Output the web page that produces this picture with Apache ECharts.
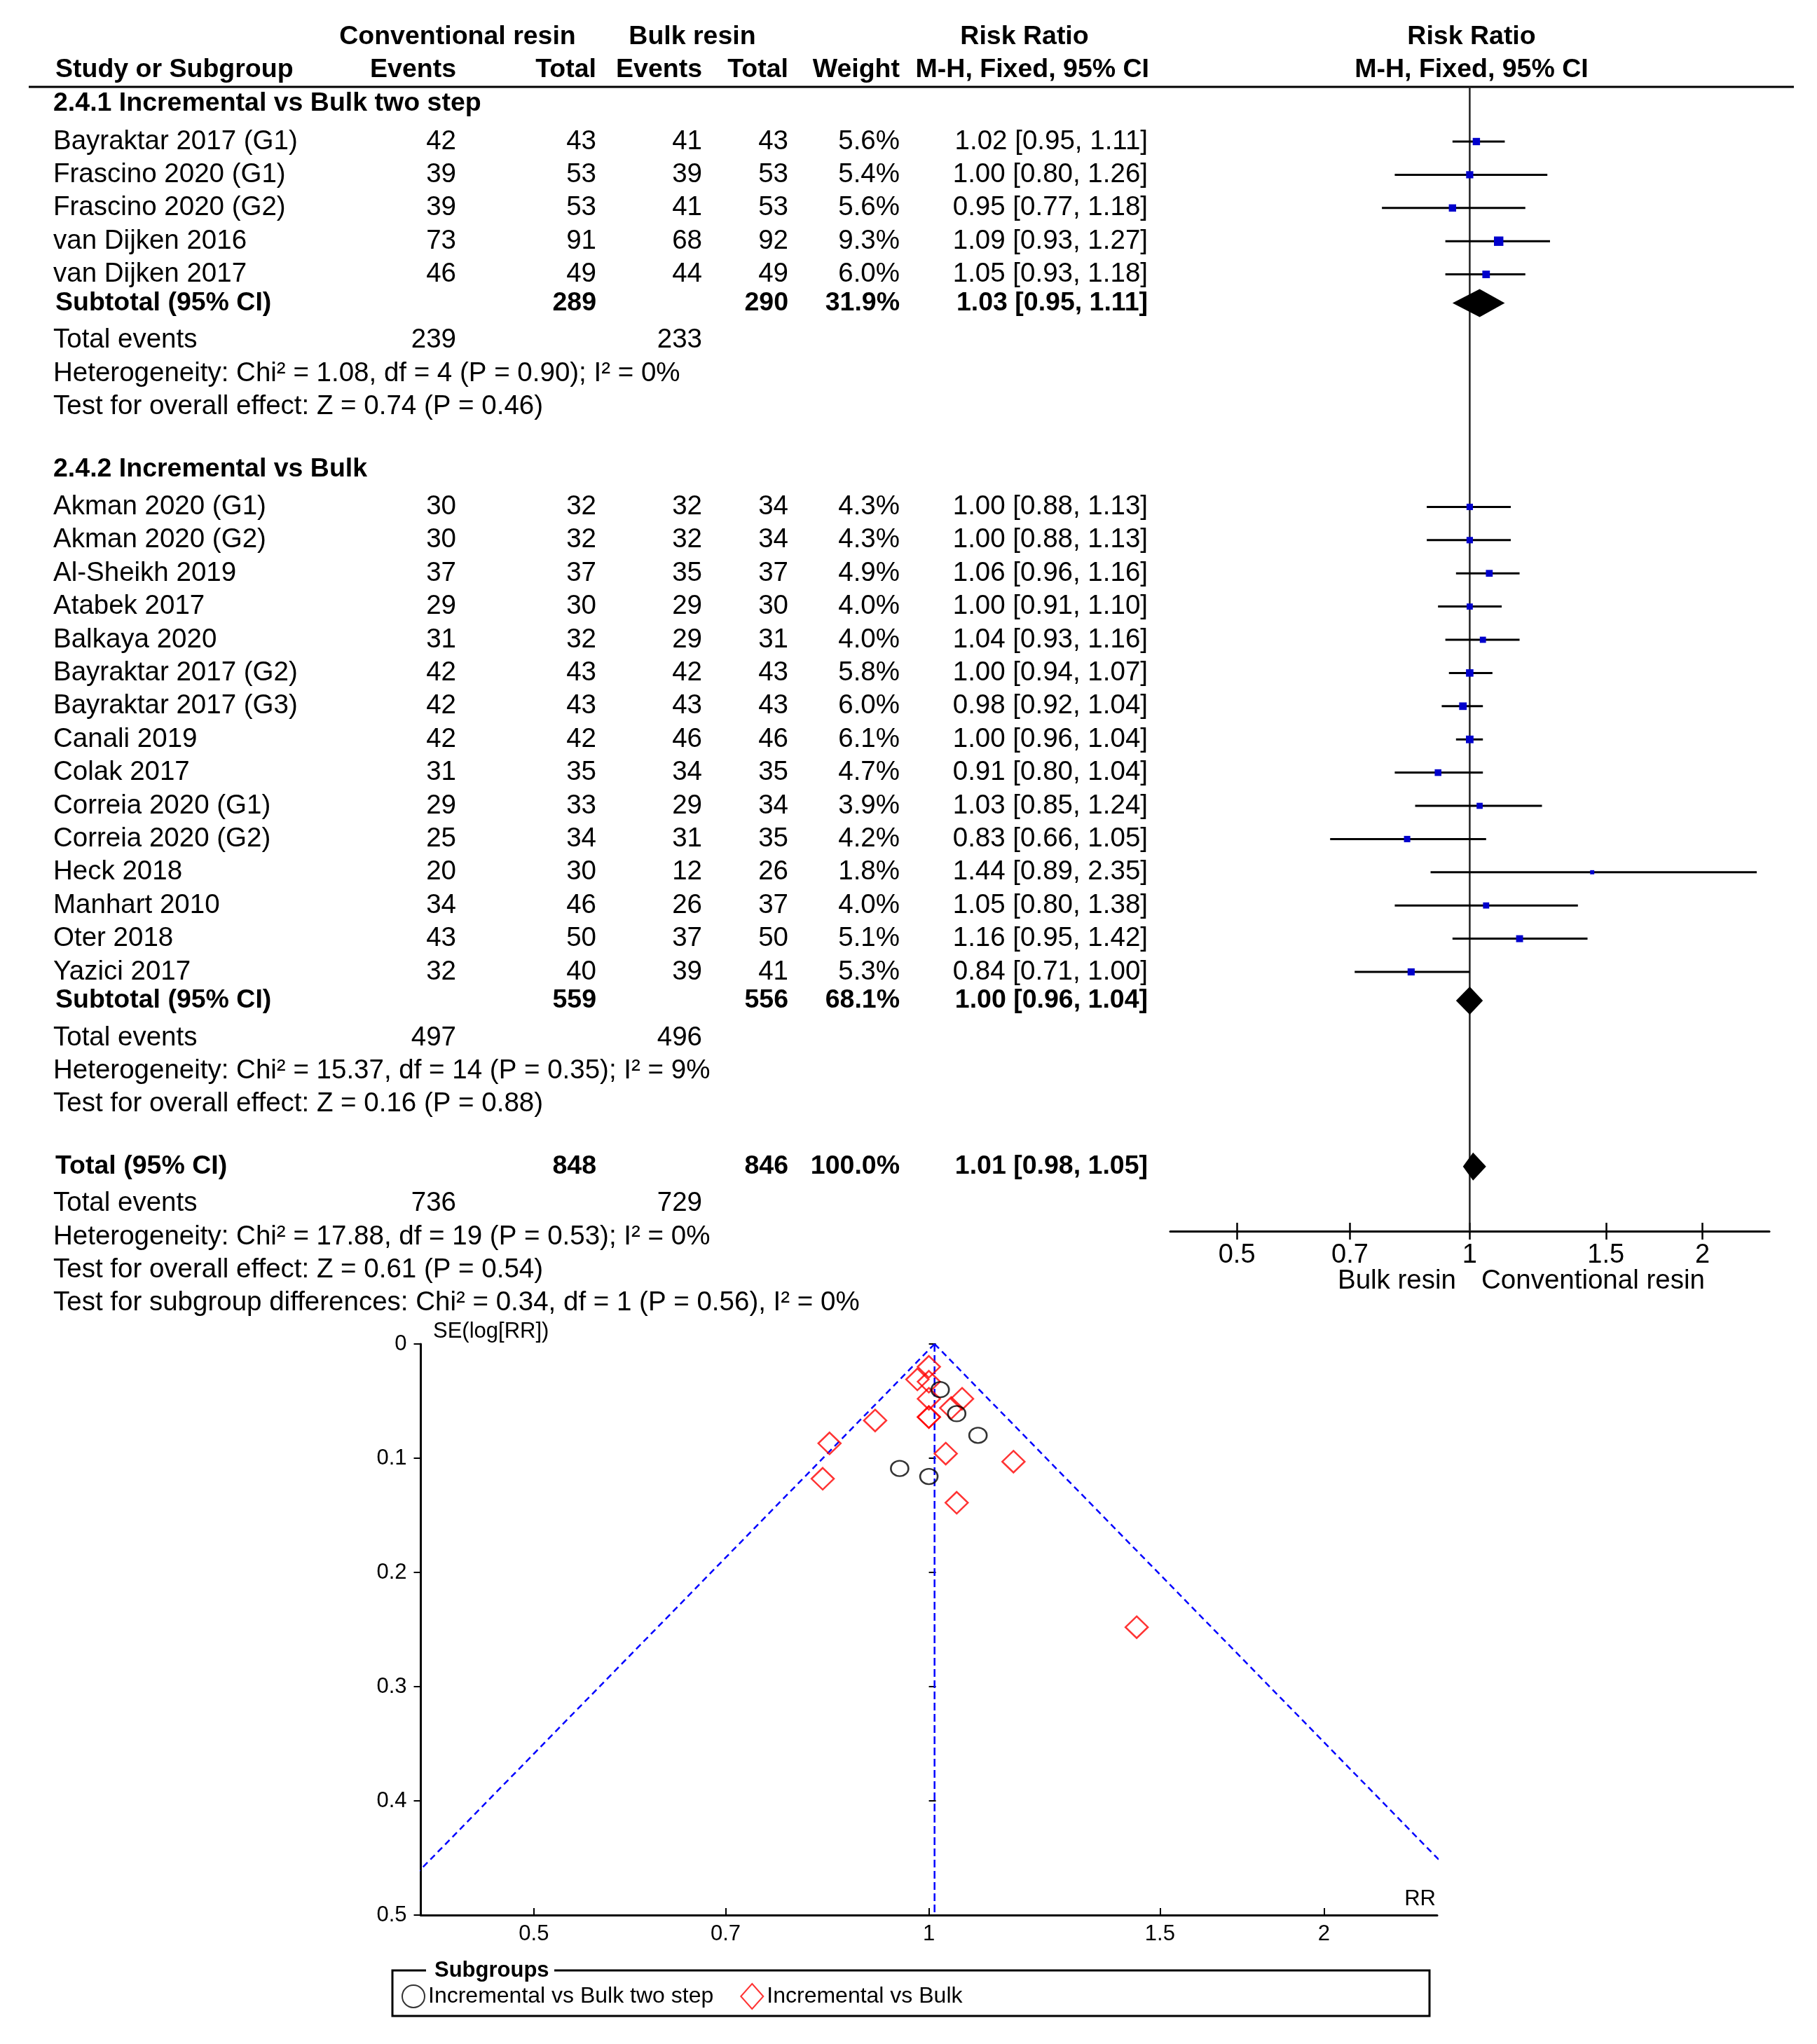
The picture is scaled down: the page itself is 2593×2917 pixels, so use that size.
<!DOCTYPE html>
<html><head><meta charset="utf-8">
<script src="https://cdn.jsdelivr.net/npm/echarts@6/dist/echarts.min.js"></script>
<style>html,body{margin:0;padding:0;background:#fff}#c{width:2593px;height:2917px}</style>
</head><body><div id="c"></div>
<script>
// ---------------- DATA ----------------
const group1Name = '2.4.1 Incremental vs Bulk two step';
const group1Studies = ['Bayraktar 2017 (G1)','Frascino 2020 (G1)','Frascino 2020 (G2)','van Dijken 2016','van Dijken 2017'];
const group1ConvEvents = [42,39,39,73,46];
const group1ConvTotal = [43,53,53,91,49];
const group1BulkEvents = [41,39,41,68,44];
const group1BulkTotal = [43,53,53,92,49];
const group1Weight = [5.6,5.4,5.6,9.3,6.0];
const group1RR = [1.02,1.00,0.95,1.09,1.05];
const group1Lower = [0.95,0.80,0.77,0.93,0.93];
const group1Upper = [1.11,1.26,1.18,1.27,1.18];
const group1SE = [0.040,0.116,0.109,0.080,0.061];
const group1Subtotal = {convTotal:289, bulkTotal:290, weight:31.9, rr:1.03, lo:0.95, hi:1.11, convEvents:239, bulkEvents:233};
const group1Het = 'Heterogeneity: Chi\u00B2 = 1.08, df = 4 (P = 0.90); I\u00B2 = 0%';
const group1Test = 'Test for overall effect: Z = 0.74 (P = 0.46)';

const group2Name = '2.4.2 Incremental vs Bulk';
const group2Studies = ['Akman 2020 (G1)','Akman 2020 (G2)','Al-Sheikh 2019','Atabek 2017','Balkaya 2020','Bayraktar 2017 (G2)','Bayraktar 2017 (G3)','Canali 2019','Colak 2017','Correia 2020 (G1)','Correia 2020 (G2)','Heck 2018','Manhart 2010','Oter 2018','Yazici 2017'];
const group2ConvEvents = [30,30,37,29,31,42,42,42,31,29,25,20,34,43,32];
const group2ConvTotal = [32,32,37,30,32,43,43,42,35,33,34,30,46,50,40];
const group2BulkEvents = [32,32,35,29,29,42,43,46,34,29,31,12,26,37,39];
const group2BulkTotal = [34,34,37,30,31,43,43,46,35,34,35,26,37,50,41];
const group2Weight = [4.3,4.3,4.9,4.0,4.0,5.8,6.0,6.1,4.7,3.9,4.2,1.8,4.0,5.1,5.3];
const group2RR = [1.00,1.00,1.06,1.00,1.04,1.00,0.98,1.00,0.91,1.03,0.83,1.44,1.05,1.16,0.84];
const group2Lower = [0.88,0.88,0.96,0.91,0.93,0.94,0.92,0.96,0.80,0.85,0.66,0.89,0.80,0.95,0.71];
const group2Upper = [1.13,1.13,1.16,1.10,1.16,1.07,1.04,1.04,1.04,1.24,1.05,2.35,1.38,1.42,1.00];
const group2SE = [0.064,0.064,0.048,0.048,0.056,0.033,0.031,0.020,0.067,0.096,0.118,0.248,0.139,0.103,0.087];
const group2Subtotal = {convTotal:559, bulkTotal:556, weight:68.1, rr:1.00, lo:0.96, hi:1.04, convEvents:497, bulkEvents:496};
const group2Het = 'Heterogeneity: Chi\u00B2 = 15.37, df = 14 (P = 0.35); I\u00B2 = 9%';
const group2Test = 'Test for overall effect: Z = 0.16 (P = 0.88)';

const overallTotal = {convTotal:848, bulkTotal:846, weight:100.0, rr:1.01, lo:0.98, hi:1.05, convEvents:736, bulkEvents:729};
const overallHet = 'Heterogeneity: Chi\u00B2 = 17.88, df = 19 (P = 0.53); I\u00B2 = 0%';
const overallTest = 'Test for overall effect: Z = 0.61 (P = 0.54)';
const subgroupTest = 'Test for subgroup differences: Chi\u00B2 = 0.34, df = 1 (P = 0.56), I\u00B2 = 0%';

const forestTicks = [0.5, 0.7, 1, 1.5, 2];
const funnelXTicks = [0.5, 0.7, 1, 1.5, 2];
const axisRange = [0.41, 2.44];
const seRange = [0, 0.5];
const legendNames = ['Incremental vs Bulk two step','Incremental vs Bulk'];

// ---------------- LAYOUT ----------------
const FF = '"Liberation Sans", Arial, sans-serif';
const FS = 37.5;
const FSR = 38.5;
const rows = [];
let cy = 148;
function push(o){ o.y = cy; rows.push(o); }
function addGroup(name, studies, ce, ct, be, bt, w, rr, lo, hi, sub, het, test) {
  push({kind:'heading', label:name});
  cy += 54;
  for (let i = 0; i < studies.length; i++) {
    if (i > 0) cy += 47.4;
    push({kind:'study', label:studies[i], ce:ce[i], ct:ct[i], be:be[i], bt:bt[i], w:w[i], rr:rr[i], lo:lo[i], hi:hi[i]});
  }
  cy += 41;
  push(Object.assign({kind:'sub', label:'Subtotal (95% CI)'}, sub));
  cy += 53;
  push({kind:'events', label:'Total events', ce:sub.convEvents, be:sub.bulkEvents});
  cy += 47.4; push({kind:'note', label:het});
  cy += 47.4; push({kind:'note', label:test});
}
addGroup(group1Name, group1Studies, group1ConvEvents, group1ConvTotal, group1BulkEvents, group1BulkTotal, group1Weight, group1RR, group1Lower, group1Upper, group1Subtotal, group1Het, group1Test);
cy += 89;
addGroup(group2Name, group2Studies, group2ConvEvents, group2ConvTotal, group2BulkEvents, group2BulkTotal, group2Weight, group2RR, group2Lower, group2Upper, group2Subtotal, group2Het, group2Test);
cy += 89;
push(Object.assign({kind:'sub', label:'Total (95% CI)'}, overallTotal));
cy += 53; push({kind:'events', label:'Total events', ce:overallTotal.convEvents, be:overallTotal.bulkEvents});
cy += 47.2; push({kind:'note', label:overallHet});
cy += 47.2; push({kind:'note', label:overallTest});
cy += 47.2; push({kind:'note', label:subgroupTest});

const COL = {label:76, ce:651, ct:851, be:1002, bt:1125, w:1284, rr:1638};
function txt(str, x, y, align, bold, size) {
  const s = size || (bold ? FS : FSR);
  return {type:'text', x:x, y:y, silent:true, z:10,
    style:{text:String(str), x:0, y:0, fill:'#000',
      font:(bold?'bold ':'') + s + 'px ' + FF,
      textAlign:align||'left', textVerticalAlign:'middle', align:align||'left', verticalAlign:'middle'}};
}
const fmtCI = (r,l,h) => r.toFixed(2) + ' [' + l.toFixed(2) + ', ' + h.toFixed(2) + ']';

const g = [];
// headers
g.push(txt('Conventional resin', 653, 53, 'center', true));
g.push(txt('Bulk resin', 988, 53, 'center', true));
g.push(txt('Risk Ratio', 1462, 53, 'center', true));
g.push(txt('Risk Ratio', 2100, 53, 'center', true));
g.push(txt('Study or Subgroup', 79, 100, 'left', true));
g.push(txt('Events', COL.ce, 100, 'right', true));
g.push(txt('Total', COL.ct, 100, 'right', true));
g.push(txt('Events', COL.be, 100, 'right', true));
g.push(txt('Total', COL.bt, 100, 'right', true));
g.push(txt('Weight', COL.w, 100, 'right', true));
g.push(txt('M-H, Fixed, 95% CI', 1640, 100, 'right', true));
g.push(txt('M-H, Fixed, 95% CI', 2100, 100, 'center', true));
g.push({type:'line', silent:true, shape:{x1:41, y1:124, x2:2560, y2:124}, style:{stroke:'#000', lineWidth:3}});

rows.forEach(r => {
  if (r.kind === 'heading') g.push(txt(r.label, COL.label, r.y, 'left', true));
  else if (r.kind === 'study') {
    g.push(txt(r.label, COL.label, r.y));
    g.push(txt(r.ce, COL.ce, r.y, 'right'));
    g.push(txt(r.ct, COL.ct, r.y, 'right'));
    g.push(txt(r.be, COL.be, r.y, 'right'));
    g.push(txt(r.bt, COL.bt, r.y, 'right'));
    g.push(txt(r.w.toFixed(1) + '%', COL.w, r.y, 'right'));
    g.push(txt(fmtCI(r.rr, r.lo, r.hi), COL.rr, r.y, 'right'));
  } else if (r.kind === 'sub') {
    g.push(txt(r.label, COL.label + 3, r.y, 'left', true));
    g.push(txt(r.convTotal, COL.ct, r.y, 'right', true));
    g.push(txt(r.bulkTotal, COL.bt, r.y, 'right', true));
    g.push(txt(r.weight.toFixed(1) + '%', COL.w, r.y, 'right', true));
    g.push(txt(fmtCI(r.rr, r.lo, r.hi), COL.rr, r.y, 'right', true));
  } else if (r.kind === 'events') {
    g.push(txt(r.label, COL.label, r.y));
    g.push(txt(r.ce, COL.ce, r.y, 'right'));
    g.push(txt(r.be, COL.be, r.y, 'right'));
  } else g.push(txt(r.label, COL.label, r.y));
});
// forest direction labels
g.push(txt('Bulk resin', 2078, 1828, 'right', false, 38.5));
g.push(txt('Conventional resin', 2114, 1828, 'left', false, 38.5));
// funnel labels
g.push(txt('SE(log[RR])', 618, 1900, 'left', false, 31));
g.push(txt('RR', 2049, 2710, 'right', false, 31));
// legend frame
g.push({type:'rect', silent:true, shape:{x:560, y:2812, width:1480, height:65}, style:{stroke:'#000', lineWidth:3, fill:null}});
g.push({type:'rect', silent:true, z:5, shape:{x:608, y:2796, width:183, height:32}, style:{fill:'#fff'}});
g.push(txt('Subgroups', 620, 2812, 'left', true, 31));

// ---------------- SERIES DATA ----------------
const ln = Math.log;
const studyData = rows.filter(r => r.kind === 'study').map(r => [ln(r.rr), r.y, ln(r.lo), ln(r.hi), r.w]);
const diamondData = rows.filter(r => r.kind === 'sub').map(r => [ln(r.rr), r.y, ln(r.lo), ln(r.hi)]);
const pooled = overallTotal.rr;
const funnel1 = group1RR.map((v, i) => [ln(v), group1SE[i]]);
const funnel2 = group2RR.map((v, i) => [ln(v), group2SE[i]]);
const tickLn = forestTicks.map(v => ln(v));
const fTickLn = funnelXTicks.map(v => ln(v));
const fmtTick = v => String(Math.round(Math.exp(v) * 10) / 10);

const FOREST_TOP = 124, FOREST_BOTTOM = 1757;
const blueDash = {color:'#0000FF', width:2.5, type:[9,6]};

const option = {
  animation:false,
  backgroundColor:'#fff',
  textStyle:{fontFamily:FF},
  grid:[
    {left:1670, right:2593-2525, top:FOREST_TOP, height:FOREST_BOTTOM-FOREST_TOP},
    {left:600.5, right:2593-2051, top:1918, height:815}
  ],
  xAxis:[
    {type:'value', gridIndex:0, min:ln(axisRange[0]), max:ln(axisRange[1]), position:'bottom',
      axisLine:{show:true, onZero:false, lineStyle:{color:'#000', width:3}},
      axisTick:{show:true, inside:false, length:12, customValues:tickLn, lineStyle:{color:'#000', width:2.5}},
      axisLabel:{show:true, customValues:tickLn, formatter:fmtTick, fontSize:38, color:'#000', margin:16, fontFamily:FF},
      splitLine:{show:false}},
    {type:'value', gridIndex:0, min:ln(axisRange[0]), max:ln(axisRange[1]), position:'bottom',
      axisLine:{show:false},
      axisTick:{show:true, inside:true, length:12, customValues:tickLn, lineStyle:{color:'#000', width:2.5}},
      axisLabel:{show:false}, splitLine:{show:false}},
    {type:'value', gridIndex:1, min:ln(axisRange[0]), max:ln(axisRange[1]), position:'bottom',
      axisLine:{show:true, onZero:false, lineStyle:{color:'#000', width:3}},
      axisTick:{show:true, inside:true, length:10, customValues:fTickLn, lineStyle:{color:'#000', width:2}},
      axisLabel:{show:true, customValues:fTickLn, formatter:fmtTick, fontSize:31, color:'#000', margin:12, fontFamily:FF},
      splitLine:{show:false}}
  ],
  yAxis:[
    {type:'value', gridIndex:0, inverse:true, min:FOREST_TOP, max:FOREST_BOTTOM, show:false},
    {type:'value', gridIndex:1, inverse:true, min:seRange[0], max:seRange[1], interval:0.1, position:'left',
      axisLine:{show:true, onZero:false, lineStyle:{color:'#000', width:3}},
      axisTick:{show:true, inside:false, length:10, lineStyle:{color:'#000', width:2}},
      axisLabel:{show:true, fontSize:31, color:'#000', margin:20, fontFamily:FF, formatter:v => String(Math.round(v*10)/10)},
      splitLine:{show:false}},
    {type:'value', gridIndex:1, inverse:true, min:seRange[0], max:seRange[1], interval:0.1, position:'left',
      axisLine:{show:false},
      axisTick:{show:true, inside:true, length:10, lineStyle:{color:'#000', width:2}},
      axisLabel:{show:false}, splitLine:{show:false}}
  ],
  legend:{left:568, top:2825, itemWidth:32, itemHeight:36, itemGap:38, selectedMode:false,
    textStyle:{fontSize:32, color:'#000', fontFamily:FF}, data:legendNames},
  series:[
    {type:'line', name:'null line', xAxisIndex:0, yAxisIndex:0, data:[[0, FOREST_TOP],[0, FOREST_BOTTOM]],
      symbol:'none', lineStyle:{color:'#222', width:2.5}, z:1, silent:true},
    {type:'custom', name:'studies', xAxisIndex:0, yAxisIndex:0, data:studyData, encode:{x:[0,2,3], y:1}, z:3, silent:true,
      renderItem:function(params, api){
        const p = api.coord([api.value(0), api.value(1)]);
        const a = api.coord([api.value(2), api.value(1)]);
        const b = api.coord([api.value(3), api.value(1)]);
        const s = 4.4 * Math.sqrt(api.value(4));
        return {type:'group', children:[
          {type:'line', shape:{x1:a[0], y1:a[1], x2:b[0], y2:b[1]}, style:{stroke:'#000', lineWidth:3}},
          {type:'rect', shape:{x:p[0]-s/2, y:p[1]-s/2, width:s, height:s}, style:{fill:'#0000CC'}}
        ]};
      }},
    {type:'custom', name:'pooled', xAxisIndex:0, yAxisIndex:0, data:diamondData, encode:{x:[0,2,3], y:1}, z:3, silent:true,
      renderItem:function(params, api){
        const p = api.coord([api.value(0), api.value(1)]);
        const a = api.coord([api.value(2), api.value(1)]);
        const b = api.coord([api.value(3), api.value(1)]);
        const h = 20;
        return {type:'polygon', shape:{points:[[a[0],p[1]],[p[0],p[1]-h],[b[0],p[1]],[p[0],p[1]+h]]}, style:{fill:'#000'}};
      }},
    {type:'line', name:'ci left', xAxisIndex:2, yAxisIndex:1, clip:true, symbol:'none', silent:true,
      data:[[ln(pooled), seRange[0]], [ln(pooled) - 1.96*seRange[1], seRange[1]]], lineStyle:blueDash},
    {type:'line', name:'ci right', xAxisIndex:2, yAxisIndex:1, clip:true, symbol:'none', silent:true,
      data:[[ln(pooled), seRange[0]], [ln(pooled) + 1.96*seRange[1], seRange[1]]], lineStyle:blueDash},
    {type:'line', name:'pooled line', xAxisIndex:2, yAxisIndex:1, clip:true, symbol:'none', silent:true,
      data:[[ln(pooled), seRange[0]], [ln(pooled), seRange[1]]], lineStyle:{color:'#0000FF', width:2.5, type:[11,5]}},
    {type:'scatter', name:legendNames[1], xAxisIndex:2, yAxisIndex:1, data:funnel2, symbol:'diamond', symbolSize:[32,31], z:4,
      itemStyle:{color:'rgba(0,0,0,0)', borderColor:'#FF0000', borderWidth:2.5}},
    {type:'scatter', name:legendNames[0], xAxisIndex:2, yAxisIndex:1, data:funnel1, symbol:'circle', symbolSize:[25,22], z:5,
      itemStyle:{color:'rgba(0,0,0,0)', borderColor:'#000', borderWidth:2.5}}
  ],
  graphic:{elements:g}
};
const chart = echarts.init(document.getElementById('c'));
chart.setOption(option);
</script></body></html>
